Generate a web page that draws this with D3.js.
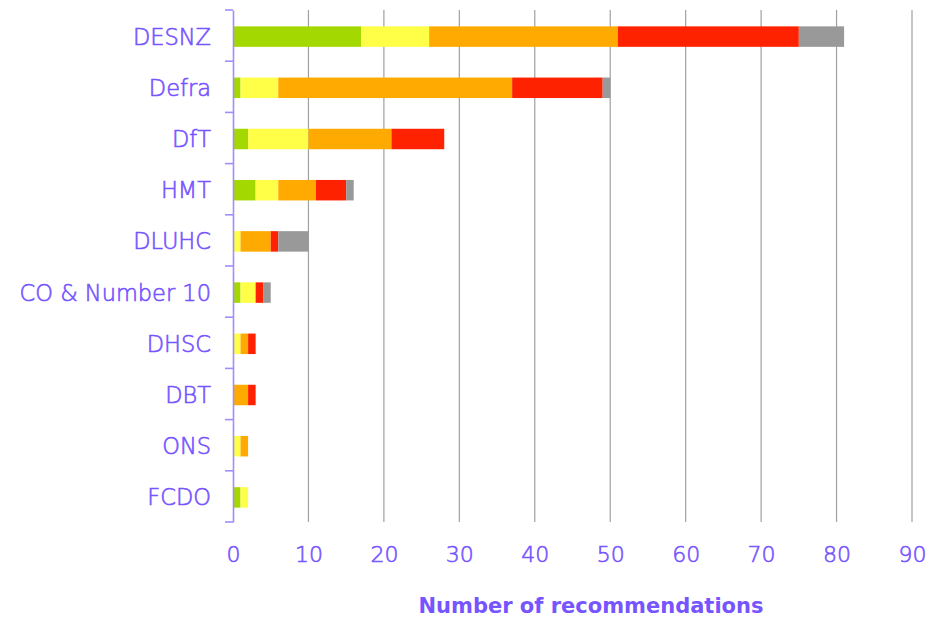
<!DOCTYPE html>
<html>
<head>
<meta charset="utf-8">
<script src="https://cdn.jsdelivr.net/npm/d3@7"></script>
<style>
  body { margin: 0; background: #fff; }
  svg text { font-family: "DejaVu Sans", sans-serif; }
</style>
</head>
<body>
<script>

// departments, top to bottom
var departments = ["DESNZ", "Defra", "DfT", "HMT", "DLUHC", "CO & Number 10", "DHSC", "DBT", "ONS", "FCDO"];

// stacked segments, one value per department
var green  = [17, 1, 2, 3, 0, 1, 0, 0, 0, 1];
var yellow = [9, 5, 8, 3, 1, 2, 1, 0, 1, 1];
var orange = [25, 31, 11, 5, 4, 0, 1, 2, 1, 0];
var red    = [24, 12, 7, 4, 1, 1, 1, 1, 0, 0];
var grey   = [6, 1, 0, 1, 4, 1, 0, 0, 0, 0];

var xTicks = [0, 10, 20, 30, 40, 50, 60, 70, 80, 90];
var xTitle = "Number of recommendations";

var seriesKeys = ["green", "yellow", "orange", "red", "grey"];
var seriesColors = ["#a3d900", "#ffff47", "#ffaa00", "#ff2200", "#999999"];

var width = 935, height = 618;
var plotLeft = 233, plotRight = 912, plotTop = 10, plotBottom = 522;

var purple = "#7654ff";

// build rows for the stack
var rows = departments.map(function(d, i) {
  return {dept: d, green: green[i], yellow: yellow[i], orange: orange[i], red: red[i], grey: grey[i]};
});

var layers = d3.stack().keys(seriesKeys)(rows);

var x = d3.scaleLinear().domain([0, 90]).range([plotLeft, plotRight]);
var y = d3.scaleBand().domain(departments).range([plotTop, plotBottom])
  .paddingInner(0.6).paddingOuter(0.3);

var color = d3.scaleOrdinal().domain(seriesKeys).range(seriesColors);

var svg = d3.select("body").append("svg")
  .attr("width", width)
  .attr("height", height);

// vertical gridlines
svg.append("g").attr("class", "grid")
  .selectAll("line")
  .data(xTicks.slice(1))
  .enter().append("line")
  .attr("x1", function(d) { return x(d); })
  .attr("x2", function(d) { return x(d); })
  .attr("y1", plotTop)
  .attr("y2", plotBottom)
  .style("stroke", "#a0a0a0")
  .style("stroke-width", 1.2);

// bars
svg.append("g").attr("class", "bars")
  .selectAll("g")
  .data(layers)
  .enter().append("g")
  .style("fill", function(d) { return color(d.key); })
  .selectAll("rect")
  .data(function(d) { return d; })
  .enter().append("rect")
  .attr("x", function(d) { return x(d[0]); })
  .attr("width", function(d) { return x(d[1]) - x(d[0]); })
  .attr("y", function(d) { return y(d.data.dept) + 1; })
  .attr("height", y.bandwidth());

// x axis labels
var xAxis = d3.axisBottom(x).tickValues(xTicks).tickSize(0).tickPadding(0);
var gx = svg.append("g")
  .attr("transform", "translate(0,544)")
  .call(xAxis);
gx.select(".domain").remove();
gx.selectAll("text")
  .style("font-size", "22px")
  .style("font-weight", 200)
  .style("fill", purple)
  .style("stroke", purple)
  .style("stroke-width", 0.6)
  .attr("dy", "0.8em");

// y axis
var yAxis = d3.axisLeft(y).tickSize(0).tickPadding(22);
var gy = svg.append("g")
  .attr("transform", "translate(" + plotLeft + ",0)")
  .call(yAxis);
gy.select(".domain")
  .style("stroke", "#a38cff")
  .style("stroke-width", 1.6);
gy.selectAll("text")
  .style("font-size", "22.5px")
  .style("font-weight", 200)
  .style("fill", purple)
  .style("stroke", purple)
  .style("stroke-width", 0.6)
  .attr("dy", "0.4em");

// category boundary ticks
var bounds = departments.map(function(d) { return y(d) - y.step() * y.paddingInner() / 2; });
bounds[0] = plotTop;
bounds.push(plotBottom);
svg.append("g").attr("class", "yticks")
  .selectAll("line")
  .data(bounds)
  .enter().append("line")
  .attr("x1", plotLeft - 8)
  .attr("x2", plotLeft)
  .attr("y1", function(d) { return d; })
  .attr("y2", function(d) { return d; })
  .style("stroke", "#a38cff")
  .style("stroke-width", 1.6);

// axis title
svg.append("text")
  .attr("x", 591)
  .attr("y", 613)
  .attr("text-anchor", "middle")
  .style("font-size", "21px")
  .style("font-weight", "bold")
  .style("fill", purple)
  .text(xTitle);

</script>
</body>
</html>
